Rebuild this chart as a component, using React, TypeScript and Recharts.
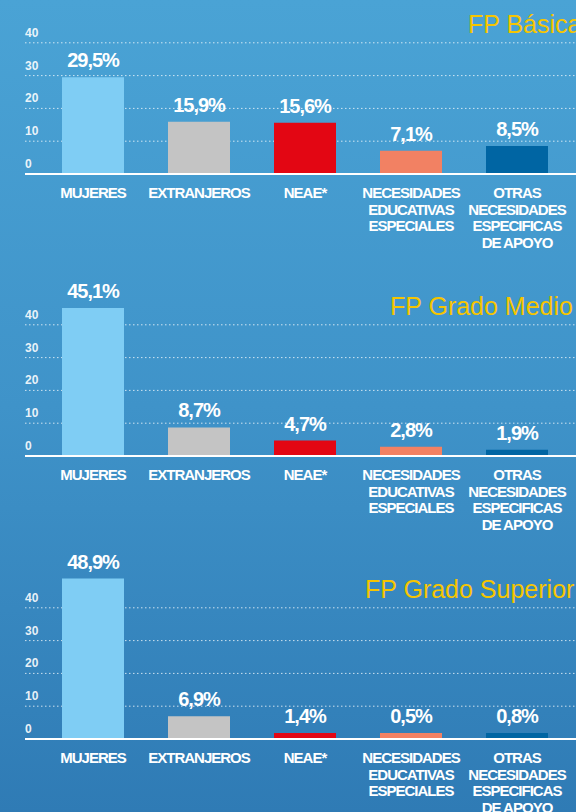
import React from 'react';
import { BarChart, Bar, XAxis, YAxis, CartesianGrid, Cell, LabelList } from 'recharts';

const categories = [
  'MUJERES',
  'EXTRANJEROS',
  'NEAE*',
  'NECESIDADES\nEDUCATIVAS\nESPECIALES',
  'OTRAS\nNECESIDADES\nESPECIFICAS\nDE APOYO',
];
const colors = ['#7fcdf4', '#c4c4c4', '#e30613', '#f28163', '#0065a3'];
const yTicks = [0, 10, 20, 30, 40];

const basicaValues = [29.5, 15.9, 15.6, 7.1, 8.5];
const medioValues = [45.1, 8.7, 4.7, 2.8, 1.9];
const superiorValues = [48.9, 6.9, 1.4, 0.5, 0.8];

const panels = [
  { title: 'FP Básica', values: basicaValues, top: -30, titleX: 468 },
  { title: 'FP Grado Medio', values: medioValues, top: 252, titleX: 390 },
  { title: 'FP Grado Superior', values: superiorValues, top: 535, titleX: 365 },
];

const fmt = (v: number) => v.toFixed(1).replace('.', ',') + '%';

const CategoryTick = ({ x, y, payload }: any) => {
  const lines = String(payload.value).split('\n');
  return (
    <text
      x={x}
      y={y + 16}
      textAnchor="middle"
      fill="#ffffff"
      fontSize={15}
      fontWeight="bold"
      letterSpacing={-1}
      fontFamily="'Liberation Sans', Arial, sans-serif"
    >
      {lines.map((l, i) => (
        <tspan key={i} x={x} dy={i === 0 ? 0 : 16.5}>
          {l}
        </tspan>
      ))}
    </text>
  );
};

const ValueTick = ({ y, payload }: any) => (
  <text
    x={25}
    y={y - 6}
    textAnchor="start"
    fill="#ffffff"
    fillOpacity={0.9}
    fontSize={12}
    fontWeight="bold"
    fontFamily="'Liberation Sans', Arial, sans-serif"
  >
    {payload.value}
  </text>
);

const Panel = ({ title, values, top, titleX }: any) => {
  const data = categories.map((c, i) => ({ name: c, value: values[i] }));
  return (
    <div style={{ position: 'absolute', left: 0, top, width: 576, height: 310 }}>
      <BarChart
        width={576}
        height={310}
        data={data}
        margin={{ top: 40, right: 0, bottom: 76, left: 0 }}
      >
        <CartesianGrid
          vertical={false}
          syncWithTicks
          stroke="#ffffff"
          strokeOpacity={0.75}
          strokeDasharray="1.5 2.5"
        />
        <XAxis
          dataKey="name"
          interval={0}
          height={30}
          padding={{ left: 15, right: 6 }}
          axisLine={{ stroke: '#ffffff', strokeWidth: 2 }}
          tickLine={false}
          tick={<CategoryTick />}
        />
        <YAxis
          width={25}
          domain={[0, 50]}
          ticks={yTicks}
          axisLine={false}
          tickLine={false}
          tick={<ValueTick />}
        />
        <Bar dataKey="value" barSize={62} minPointSize={6} isAnimationActive={false}>
          {data.map((d, i) => (
            <Cell key={d.name} fill={colors[i]} />
          ))}
          <LabelList
            dataKey="value"
            position="top"
            offset={10}
            formatter={(v: any) => fmt(Number(v))}
            fill="#ffffff"
            fontSize={20}
            fontWeight="bold"
            letterSpacing={-1}
            fontFamily="'Liberation Sans', Arial, sans-serif"
          />
        </Bar>
        <text
          x={titleX}
          y={63}
          fill="#f6c500"
          fontSize={25}
          fontFamily="'Liberation Sans', Arial, sans-serif"
        >
          {title}
        </text>
      </BarChart>
    </div>
  );
};

export default function App() {
  return (
    <div
      style={{
        position: 'absolute',
        left: 0,
        top: 0,
        width: 576,
        height: 812,
        overflow: 'hidden',
        background: 'linear-gradient(180deg, #4aa3d5 0%, #3f93c9 50%, #2f7bb5 100%)',
      }}
    >
      {panels.map((p) => (
        <Panel key={p.title} {...p} />
      ))}
    </div>
  );
}
